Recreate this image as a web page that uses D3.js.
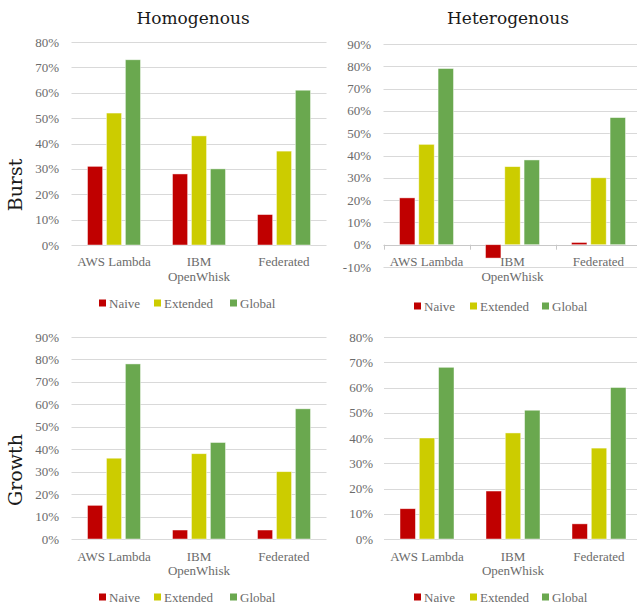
<!DOCTYPE html>
<html>
<head>
<meta charset="utf-8">
<script src="https://cdn.jsdelivr.net/npm/d3@7"></script>
<style>
  body { margin: 0; background: #fff; }
  svg { display: block; font-family: "Liberation Serif", serif; }
</style>
</head>
<body>
<div id="chart"></div>
<script>
const categories = ['AWS Lambda', 'IBM OpenWhisk', 'Federated'];
const seriesNames = ['Naive', 'Extended', 'Global'];
const colors = ['#c00000', '#cccc00', '#6aa84f'];

// values in percent, order: Naive, Extended, Global
const homBurst = [[31, 28, 12], [52, 43, 37], [73, 30, 61]];
const hetBurst = [[21, -6, 1], [45, 35, 30], [79, 38, 57]];
const homGrowth = [[15, 4, 4], [36, 38, 30], [78, 43, 58]];
const hetGrowth = [[12, 19, 6], [40, 42, 36], [68, 51, 60]];

const homBurstTicks = [0, 10, 20, 30, 40, 50, 60, 70, 80];
const hetBurstTicks = [-10, 0, 10, 20, 30, 40, 50, 60, 70, 80, 90];
const homGrowthTicks = [0, 10, 20, 30, 40, 50, 60, 70, 80, 90];
const hetGrowthTicks = [0, 10, 20, 30, 40, 50, 60, 70, 80];

const colTitles = ['Homogenous', 'Heterogenous'];
const rowTitles = ['Burst', 'Growth'];

const width = 637, height = 609;
const smallFont = 13;

const svg = d3.select('#chart').append('svg')
  .attr('width', width)
  .attr('height', height);

const panels = [
  { data: homBurst, ticks: homBurstTicks, x0: 71.5, x1: 326.5, yTop: 42, yBot: 245,
    labelX: 59, catY: 261, lineGap: 15, legendY: 303, legendX: [99, 154, 230], baseTicks: false },
  { data: hetBurst, ticks: hetBurstTicks, x0: 383.5, x1: 641.5, yTop: 44, yBot: 267,
    labelX: 371, catY: 261, lineGap: 15, legendY: 306, legendX: [414, 470, 542], baseTicks: true },
  { data: homGrowth, ticks: homGrowthTicks, x0: 71.5, x1: 326.5, yTop: 337, yBot: 539,
    labelX: 59, catY: 556, lineGap: 14, legendY: 597, legendX: [99, 154, 230], baseTicks: false },
  { data: hetGrowth, ticks: hetGrowthTicks, x0: 384, x1: 642, yTop: 337, yBot: 539,
    labelX: 373, catY: 556, lineGap: 14, legendY: 597, legendX: [414, 470, 542], baseTicks: false }
];

panels.forEach((p) => {
  let g = svg.append('g');

  let y = d3.scaleLinear()
    .domain([p.ticks[0], p.ticks[p.ticks.length - 1]])
    .range([p.yBot, p.yTop]);

  let x = d3.scaleBand()
    .domain(categories)
    .range([p.x0, p.x1]);

  let xs = d3.scaleBand()
    .domain(seriesNames)
    .range([16, x.bandwidth() - 16])
    .paddingInner(0.2);

  // gridlines
  g.append('g')
    .selectAll('line')
    .data(p.ticks)
    .join('line')
    .attr('x1', p.x0)
    .attr('x2', p.x1)
    .attr('y1', (d) => Math.round(y(d)) + 0.5)
    .attr('y2', (d) => Math.round(y(d)) + 0.5)
    .attr('stroke', (d) => (d === 0 && p.baseTicks ? '#c8c8c8' : '#d9d9d9'))
    .attr('stroke-width', 1);

  // tick labels
  g.append('g')
    .selectAll('text')
    .data(p.ticks)
    .join('text')
    .attr('x', p.labelX)
    .attr('y', (d) => y(d))
    .attr('dy', '0.35em')
    .attr('text-anchor', 'end')
    .attr('font-size', smallFont)
    .attr('fill', '#6b6b6b')
    .text((d) => d + '%');

  // category ticks on the zero line
  if (p.baseTicks) {
    let edges = categories.map((c) => x(c)).concat([p.x1]);
    g.append('g')
      .selectAll('line')
      .data(edges)
      .join('line')
      .attr('x1', (d) => Math.round(d) + 0.5)
      .attr('x2', (d) => Math.round(d) + 0.5)
      .attr('y1', y(0))
      .attr('y2', y(0) + 5)
      .attr('stroke', '#c8c8c8');
  }

  // bars
  seriesNames.forEach((s, si) => {
    g.append('g')
      .selectAll('rect')
      .data(p.data[si])
      .join('rect')
      .attr('x', (d, i) => x(categories[i]) + xs(s))
      .attr('y', (d) => y(Math.max(0, d)))
      .attr('width', xs.bandwidth())
      .attr('height', (d) => Math.abs(y(d) - y(0)))
      .attr('fill', colors[si])
      .attr('stroke', '#ffffff')
      .attr('stroke-opacity', 0.6)
      .attr('stroke-width', 0.75);
  });

  // category labels
  categories.forEach((c) => {
    let words = c === 'IBM OpenWhisk' ? ['IBM', 'OpenWhisk'] : [c];
    words.forEach((w, wi) => {
      g.append('text')
        .attr('x', x(c) + x.bandwidth() / 2)
        .attr('y', p.catY + wi * p.lineGap)
        .attr('dy', '0.35em')
        .attr('text-anchor', 'middle')
        .attr('font-size', smallFont)
        .attr('fill', '#6b6b6b')
        .text(w);
    });
  });

  // legend
  seriesNames.forEach((s, si) => {
    g.append('rect')
      .attr('x', p.legendX[si])
      .attr('y', p.legendY - 3.5)
      .attr('width', 7)
      .attr('height', 7)
      .attr('fill', colors[si]);
    g.append('text')
      .attr('x', p.legendX[si] + 10)
      .attr('y', p.legendY)
      .attr('dy', '0.35em')
      .attr('font-size', smallFont)
      .attr('fill', '#6b6b6b')
      .text(s);
  });
});

// column titles
svg.selectAll('.col-title')
  .data(colTitles)
  .join('text')
  .attr('class', 'col-title')
  .attr('x', (d, i) => (i === 0 ? 193 : 508))
  .attr('y', 18)
  .attr('dy', '0.35em')
  .attr('text-anchor', 'middle')
  .attr('font-family', '"DejaVu Serif", serif')
  .attr('font-size', 17)
  .attr('fill', '#1a1a1a')
  .text((d) => d);

// row titles
svg.selectAll('.row-title')
  .data(rowTitles)
  .join('text')
  .attr('class', 'row-title')
  .attr('transform', (d, i) => `translate(15, ${i === 0 ? 185 : 470}) rotate(-90)`)
  .attr('dy', '0.35em')
  .attr('text-anchor', 'middle')
  .attr('font-family', '"DejaVu Serif", serif')
  .attr('font-size', 19)
  .attr('fill', '#1a1a1a')
  .text((d) => d);
</script>
</body>
</html>
